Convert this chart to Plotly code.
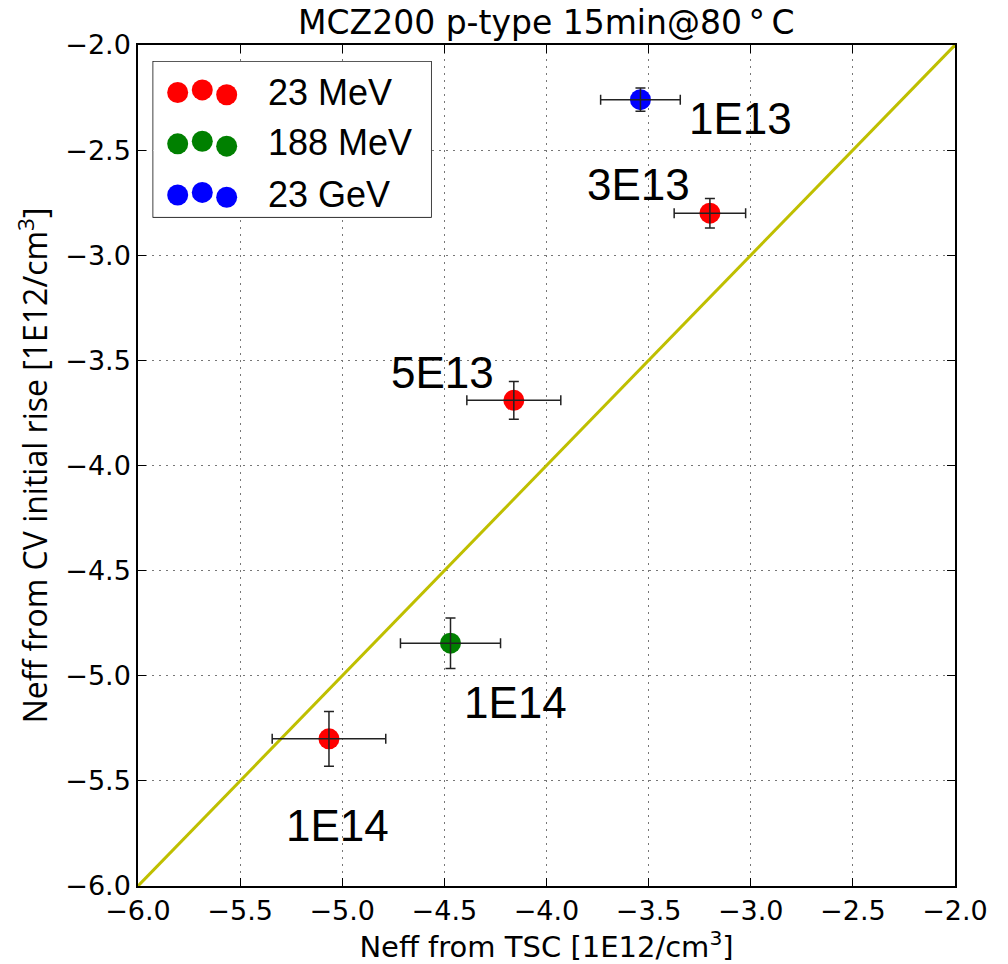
import plotly.graph_objects as go

# Neff values [1E12/cm^3]: TSC (x) vs CV initial rise (y)
groups = ["23 MeV", "188 MeV", "23 GeV"]
colors = ["#ff0000", "#008000", "#0000ff"]

tsc_23mev = [-3.20, -4.16, -5.065]
cv_23mev = [-2.80, -3.69, -5.30]
tsc_err_23mev = [0.175, 0.23, 0.278]
cv_err_23mev = [0.07, 0.09, 0.13]

tsc_188mev = [-4.47]
cv_188mev = [-4.845]
tsc_err_188mev = [0.245]
cv_err_188mev = [0.12]

tsc_23gev = [-3.54]
cv_23gev = [-2.26]
tsc_err_23gev = [0.195]
cv_err_23gev = [0.055]

# fluence labels placed next to the points
label_text = ["1E13", "3E13", "5E13", "1E14", "1E14"]
label_x = [-3.05, -3.55, -4.51, -4.15, -5.025]
label_y = [-2.35, -2.665, -3.56, -5.125, -5.71]

diag = [-6.0, -2.0]
ticks = [-6.0, -5.5, -5.0, -4.5, -4.0, -3.5, -3.0, -2.5, -2.0]
tick_text = ["\u2212%.1f" % abs(t) for t in ticks]

fig = go.Figure()

# y = x reference line
fig.add_trace(go.Scatter(x=diag, y=diag, mode="lines",
                         line=dict(color="#bfbf00", width=3),
                         showlegend=False, hoverinfo="skip"))

sets = [
    (tsc_23mev, cv_23mev, tsc_err_23mev, cv_err_23mev, colors[0]),
    (tsc_188mev, cv_188mev, tsc_err_188mev, cv_err_188mev, colors[1]),
    (tsc_23gev, cv_23gev, tsc_err_23gev, cv_err_23gev, colors[2]),
]
for (xs, ys, ex, ey, c), name in zip(sets, groups):
    fig.add_trace(go.Scatter(x=xs, y=ys, mode="markers", name=name,
                             marker=dict(color=c, size=21, line=dict(width=0)),
                             showlegend=False))
    # error bars drawn on top of the markers
    fig.add_trace(go.Scatter(x=xs, y=ys, mode="markers",
                             marker=dict(color="rgba(0,0,0,0)", size=1),
                             error_x=dict(type="data", array=ex, color="#222222",
                                          thickness=1.5, width=5),
                             error_y=dict(type="data", array=ey, color="#222222",
                                          thickness=1.5, width=5),
                             showlegend=False, hoverinfo="skip"))

for t, x, y in zip(label_text, label_x, label_y):
    fig.add_annotation(x=x, y=y, text=t, showarrow=False, xref="x", yref="y",
                       font=dict(family="Liberation Sans, Arial", size=44, color="black"))

# legend: three sample dots per entry, drawn in a small inset axis
leg_dx = [24.4, 49.0, 73.4]
leg_dy = [0.0, -2.6, 2.3]
leg_rows = [31.0, 82.6, 134.0]
for row, c in zip(leg_rows, colors):
    fig.add_trace(go.Scatter(x=leg_dx, y=[row + d for d in leg_dy], mode="markers",
                             marker=dict(color=c, size=21, line=dict(width=0)),
                             xaxis="x2", yaxis="y2", showlegend=False, hoverinfo="skip"))
leg_box = dict(x0=0.0187, x1=0.3586, y0=0.7956, y1=0.9802)
fig.add_shape(type="rect", xref="paper", yref="paper", **leg_box,
              line=dict(color="black", width=1.5), fillcolor="white", layer="between")
leg_text_y = [0.944, 0.8835, 0.8225]
for name, yy in zip(groups, leg_text_y):
    fig.add_annotation(x=0.1567, y=yy, xref="paper", yref="paper", text=name,
                       showarrow=False, xanchor="left", yanchor="middle",
                       font=dict(family="Liberation Sans, Arial", size=36, color="black"))

axis_common = dict(
    ticks="inside", ticklen=8, tickwidth=1, tickcolor="black",
    showline=True, linecolor="black", linewidth=1.5, mirror="ticks",
    showgrid=True, gridcolor="#777777", gridwidth=1, griddash="2px,5px",
    zeroline=False, tickvals=ticks, ticktext=tick_text,
    tickfont=dict(family="DejaVu Sans", size=27, color="black"),
)

fig.update_layout(
    width=1008, height=964,
    margin=dict(l=138, r=53, t=45, b=74),
    plot_bgcolor="white", paper_bgcolor="white",
    title=dict(text="MCZ200 p-type 15min@80\u2009\u00b0\u2009C",
               x=0.542, xanchor="center", y=0.977, yanchor="middle",
               font=dict(family="DejaVu Sans", size=33, color="black")),
    xaxis=dict(range=[-6, -2], title=dict(text="Neff from TSC [1E12/cm<sup>3</sup>]",
               font=dict(family="DejaVu Sans", size=29, color="black"), standoff=6),
               **axis_common),
    yaxis=dict(range=[-6, -2], title=dict(text="Neff from CV initial rise [1E12/cm<sup>3</sup>]",
               font=dict(family="Open Sans", size=32, color="black"), standoff=8),
               **axis_common),
    xaxis2=dict(domain=[leg_box["x0"], leg_box["x1"]], range=[0, 277.7], visible=False,
                anchor="y2", fixedrange=True),
    yaxis2=dict(domain=[leg_box["y0"], leg_box["y1"]], range=[156, 0], visible=False,
                anchor="x2", fixedrange=True),
)

fig.write_html("out.html")
